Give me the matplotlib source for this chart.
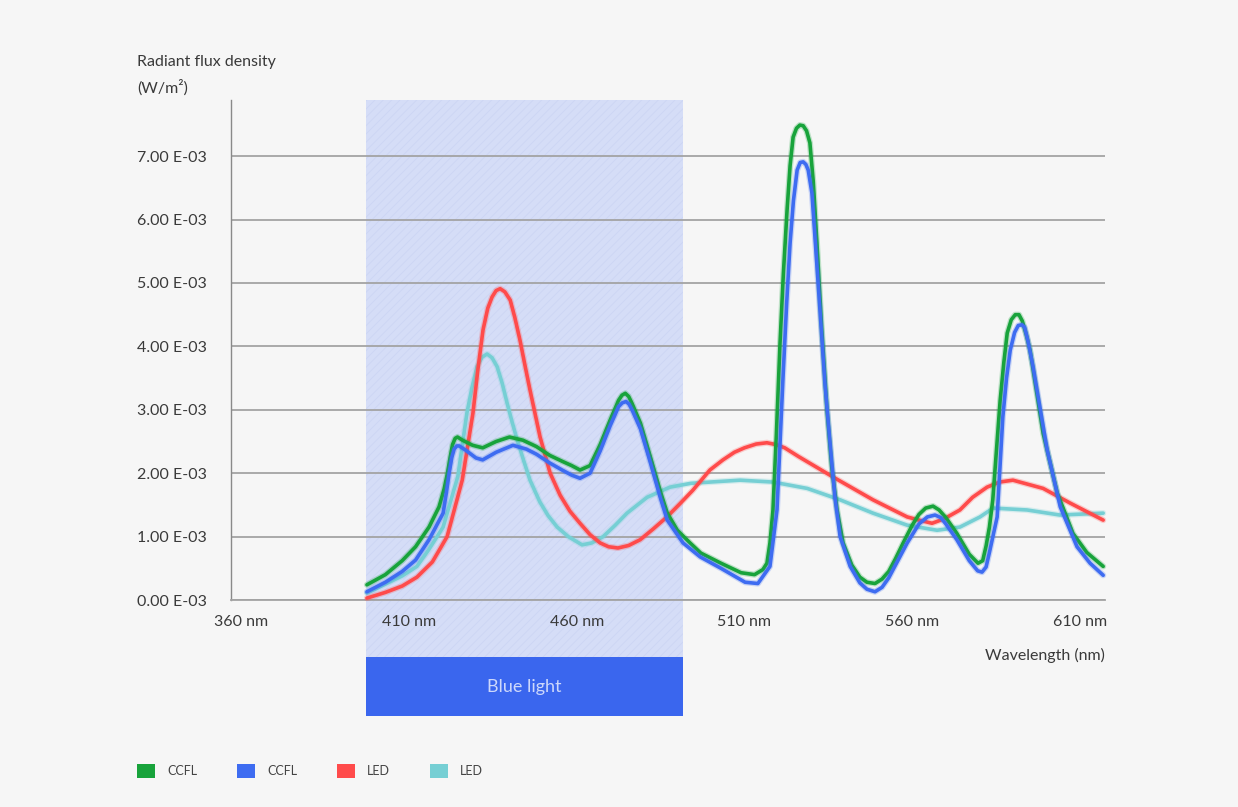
import matplotlib.pyplot as plt
import matplotlib.patheffects as pe
from matplotlib.patches import Rectangle, Patch
from matplotlib.transforms import blended_transform_factory

plt.rcParams["font.family"] = ["Lato", "DejaVu Sans"]
plt.rcParams["hatch.linewidth"] = 0.6

# spectra, flux in units of 1e-3 W/m^2
ccfl_green_nm = [397.5, 403, 408, 412, 416, 419, 420.5, 421.5, 422.3, 423, 423.8, 424.5,
                 426, 429, 432, 436, 440, 444, 448, 452, 456, 458.5, 461, 464, 467,
                 470, 472.5, 473.5, 474.5, 475.5, 476.5, 479, 482, 485, 487, 490,
                 493.8, 497, 503, 509, 513, 515.5, 516.7, 517.6, 518.5, 519.5, 520.6,
                 521.6, 522.7, 523.6, 524.5, 525.5, 526.5, 527.5, 528.5, 529.5, 530.5,
                 531.6, 533, 534.6, 536, 537.6, 539.4, 542, 544.4, 546.5, 548.9, 551,
                 553, 555, 557.3, 560, 562, 564, 566.2, 568, 570, 573.3, 577, 579.6,
                 581, 582, 583, 584, 586.2, 587.3, 588.3, 589.5, 590.7, 591.8, 592.8,
                 594, 595.1, 599, 603.2, 607.9, 612, 616.9]
ccfl_green_flux = [0.24, 0.40, 0.62, 0.84, 1.15, 1.47, 1.75, 2.00, 2.25, 2.45, 2.55, 2.57,
                   2.52, 2.44, 2.40, 2.50, 2.57, 2.52, 2.42, 2.28, 2.18, 2.12, 2.05, 2.12,
                   2.45, 2.84, 3.15, 3.23, 3.26, 3.21, 3.10, 2.79, 2.25, 1.70, 1.37, 1.10,
                   0.90, 0.74, 0.58, 0.43, 0.40, 0.48, 0.58, 0.90, 1.42, 2.60, 4.05,
                   5.15, 6.15, 6.85, 7.30, 7.44, 7.49, 7.48, 7.40, 7.21, 6.60,
                   5.63, 4.30, 3.00, 2.10, 1.42, 0.90, 0.55, 0.36, 0.28, 0.26, 0.33,
                   0.45, 0.65, 0.90, 1.18, 1.35, 1.45, 1.48, 1.42, 1.30, 1.05, 0.72, 0.58,
                   0.62, 0.85, 1.15, 1.58, 3.15, 3.75, 4.21, 4.42, 4.50, 4.50, 4.40,
                   4.18, 3.94, 2.63, 1.69, 1.05, 0.75, 0.53]

ccfl_blue_nm = [397.5, 403, 408, 412, 416, 420.2, 421.2, 422, 422.8, 423.5, 424.3, 425,
                427, 430, 432, 436, 441, 445, 448, 452, 456, 458.5, 461, 464, 467,
                470, 472.5, 473.6, 474.7, 475.6, 476.5, 479, 482, 485, 487, 491.7,
                496.8, 503, 510.2, 514, 517.6, 519.7, 521.5, 522.6, 523.6, 524.6,
                525.7, 526.6, 527.5, 528.3, 529, 530.1, 531.3, 532.5, 534, 535.5, 537,
                538.5, 541.5, 544.4, 546.5, 548.9, 551, 553, 555.5, 558.5, 562, 564.5,
                566.8, 568.5, 570, 573.3, 577, 579.5, 580.8, 582, 583, 585.3, 587,
                588.1, 589.2, 590.5, 591.6, 592.7, 593.5, 594.5, 596, 600.2, 604.1,
                609.1, 613, 616.9]
ccfl_blue_flux = [0.13, 0.28, 0.45, 0.63, 0.95, 1.37, 1.70, 2.00, 2.25, 2.38, 2.43, 2.43,
                  2.36, 2.24, 2.21, 2.33, 2.44, 2.38, 2.30, 2.16, 2.04, 1.97, 1.92, 2.00,
                  2.35, 2.75, 3.05, 3.11, 3.13, 3.09, 3.00, 2.70, 2.16, 1.60, 1.26, 0.90,
                  0.68, 0.50, 0.28, 0.26, 0.53, 1.42, 3.52, 4.70, 5.63, 6.30,
                  6.78, 6.90, 6.91, 6.87, 6.78, 6.42, 5.50, 4.57, 3.40, 2.48, 1.60,
                  1.00, 0.53, 0.27, 0.17, 0.13, 0.20, 0.35, 0.60, 0.90, 1.20, 1.31,
                  1.34, 1.30, 1.20, 0.95, 0.62, 0.46, 0.44, 0.52, 0.75, 1.31, 2.89,
                  3.50, 3.94, 4.22, 4.33, 4.34, 4.30, 4.08, 3.68, 2.37, 1.47,
                  0.84, 0.58, 0.39]

led_red_nm = [397.5, 403, 408, 412.4, 417, 421.4, 425.9, 429.1, 430.6, 432.1, 433.5,
              434.8, 436, 437.2, 438.6, 440.2, 441.6, 443.1, 444.6, 446.1, 449.1, 452.1,
              455.1, 458, 461, 464, 467, 469.5, 472.3, 475.5, 478.9, 482.8, 486.9,
              490.8, 494.6, 499.7, 503.6, 507, 510, 513.5, 516.7, 519.5, 522, 526.2,
              536.4, 548.3, 558.5, 562, 565.9, 569.5, 574.2, 578, 582.3, 586, 590,
              599, 607, 616.9]
led_red_flux = [0.03, 0.12, 0.22, 0.36, 0.60, 1.00, 1.89, 2.95, 3.65, 4.26, 4.60,
                4.78, 4.88, 4.91, 4.86, 4.73, 4.45, 4.10, 3.70, 3.31, 2.57, 2.00,
                1.65, 1.40, 1.21, 1.03, 0.90, 0.84, 0.82, 0.86, 0.95, 1.12, 1.31,
                1.52, 1.73, 2.05, 2.21, 2.33, 2.40, 2.46, 2.48, 2.45, 2.40, 2.26,
                1.94, 1.58, 1.31, 1.26, 1.21, 1.28, 1.42, 1.62, 1.78, 1.86, 1.89,
                1.76, 1.53, 1.26]

led_cyan_nm = [397.5, 403, 408, 412.4, 416, 420.2, 424.6, 427.3, 428.8, 430.3, 431.8,
               433.3, 434.8, 436.3, 437.8, 439.3, 440.8, 442.3, 444.2, 446.1, 449,
               451.5, 454.2, 457.5, 461.6, 464.5, 467.9, 471.5, 475, 481, 487.8, 494,
               499.7, 508.7, 518.5, 528.7, 538.5, 548.3, 558.5, 567.4, 574.2, 580.2,
               584.1, 594.2, 604, 616.9]
led_cyan_flux = [0.11, 0.25, 0.38, 0.53, 0.80, 1.15, 1.95, 2.95, 3.35, 3.68, 3.83,
                 3.88, 3.82, 3.68, 3.42, 3.10, 2.80, 2.52, 2.20, 1.89, 1.55,
                 1.33, 1.15, 1.00, 0.87, 0.90, 1.00, 1.18, 1.37, 1.62, 1.78, 1.84,
                 1.86, 1.89, 1.86, 1.76, 1.58, 1.37, 1.18, 1.10, 1.15, 1.31,
                 1.45, 1.42, 1.34, 1.37]

series = [
    ("LED", led_cyan_nm, led_cyan_flux, "#76cfd4"),
    ("LED", led_red_nm, led_red_flux, "#ff4b4b"),
    ("CCFL", ccfl_green_nm, ccfl_green_flux, "#18a33b"),
    ("CCFL", ccfl_blue_nm, ccfl_blue_flux, "#3e6cf1"),
]
legend_order = [2, 3, 1, 0]

x_ticks = [360, 410, 460, 510, 560, 610]
y_ticks = [0, 1, 2, 3, 4, 5, 6, 7]
blue_light_nm = (397.3, 491.7)

TEXT = "#3a3a3a"
GRID = "#a3a3a3"

fig = plt.figure(figsize=(12.38, 8.07), dpi=100, facecolor="#f6f6f6")
ax = fig.add_axes([0.1866, 0.2565, 0.7060, 0.6196])
ax.set_facecolor("none")
ax.set_xlim(357.0, 617.45)
ax.set_ylim(0, 7.886)

# blue light band, running down into its caption box
trans = blended_transform_factory(ax.transData, ax.transAxes)
b0, b1 = blue_light_nm
ax.add_patch(Rectangle((b0, -0.114), b1 - b0, 1.114, transform=trans,
                       facecolor="#d5ddf7", edgecolor="#ccd5f4", hatch="////",
                       lw=0, clip_on=False, zorder=0.5))
ax.add_patch(Rectangle((b0, -0.232), b1 - b0, 0.118, transform=trans,
                       facecolor="#3a66ee", lw=0, clip_on=False, zorder=0.6))
ax.text((b0 + b1) / 2, -0.173, "Blue light", transform=trans, ha="center",
        va="center", fontsize=13, color="#cdd8fb", zorder=0.7)

for label, nm, flux, color in series:
    ax.plot(nm, flux, color=color, lw=2.6, solid_joinstyle="round",
            solid_capstyle="round", clip_on=False, zorder=3,
            path_effects=[pe.Stroke(linewidth=4.4, foreground=color, alpha=0.25),
                          pe.Normal()])

ax.grid(axis="y", color=GRID, lw=1.3)
ax.set_axisbelow(True)
for side in ("top", "right"):
    ax.spines[side].set_visible(False)
ax.spines["bottom"].set_color(GRID)
ax.spines["bottom"].set_linewidth(1.3)
ax.spines["left"].set_color("#8a8a8a")
ax.spines["left"].set_linewidth(1.0)

ax.set_yticks(y_ticks, [f"{v:.2f} E-03" for v in y_ticks])
ax.set_xticks(x_ticks, [f"{v} nm" for v in x_ticks])
ax.tick_params(axis="y", length=0, pad=67.7, labelsize=11.5, labelcolor=TEXT)
ax.tick_params(axis="x", length=0, pad=11, labelsize=11.5, labelcolor=TEXT)
for lbl in ax.get_yticklabels():
    lbl.set_ha("left")

fig.text(137 / 1238, 1 - 62 / 807, "Radiant flux density", fontsize=11.5,
         color=TEXT, va="center", ha="left")
fig.text(137 / 1238, 1 - 88 / 807, "(W/m²)", fontsize=11.5,
         color=TEXT, va="center", ha="left")
fig.text(1105 / 1238, 1 - 655 / 807, "Wavelength (nm)", fontsize=11.5,
         color=TEXT, va="center", ha="right")

handles = [Patch(facecolor=series[i][3], edgecolor="none", label=series[i][0])
           for i in legend_order]
leg = fig.legend(handles=handles, loc="center left",
                 bbox_to_anchor=(137 / 1238, 1 - 771 / 807), ncol=4,
                 frameon=False, fontsize=9, handlelength=1.44, handleheight=1.44,
                 handletextpad=0.95, columnspacing=3.2, borderpad=0,
                 borderaxespad=0)
for t in leg.get_texts():
    t.set_color("#444444")

fig.savefig("out.png", dpi=100, facecolor=fig.get_facecolor())
